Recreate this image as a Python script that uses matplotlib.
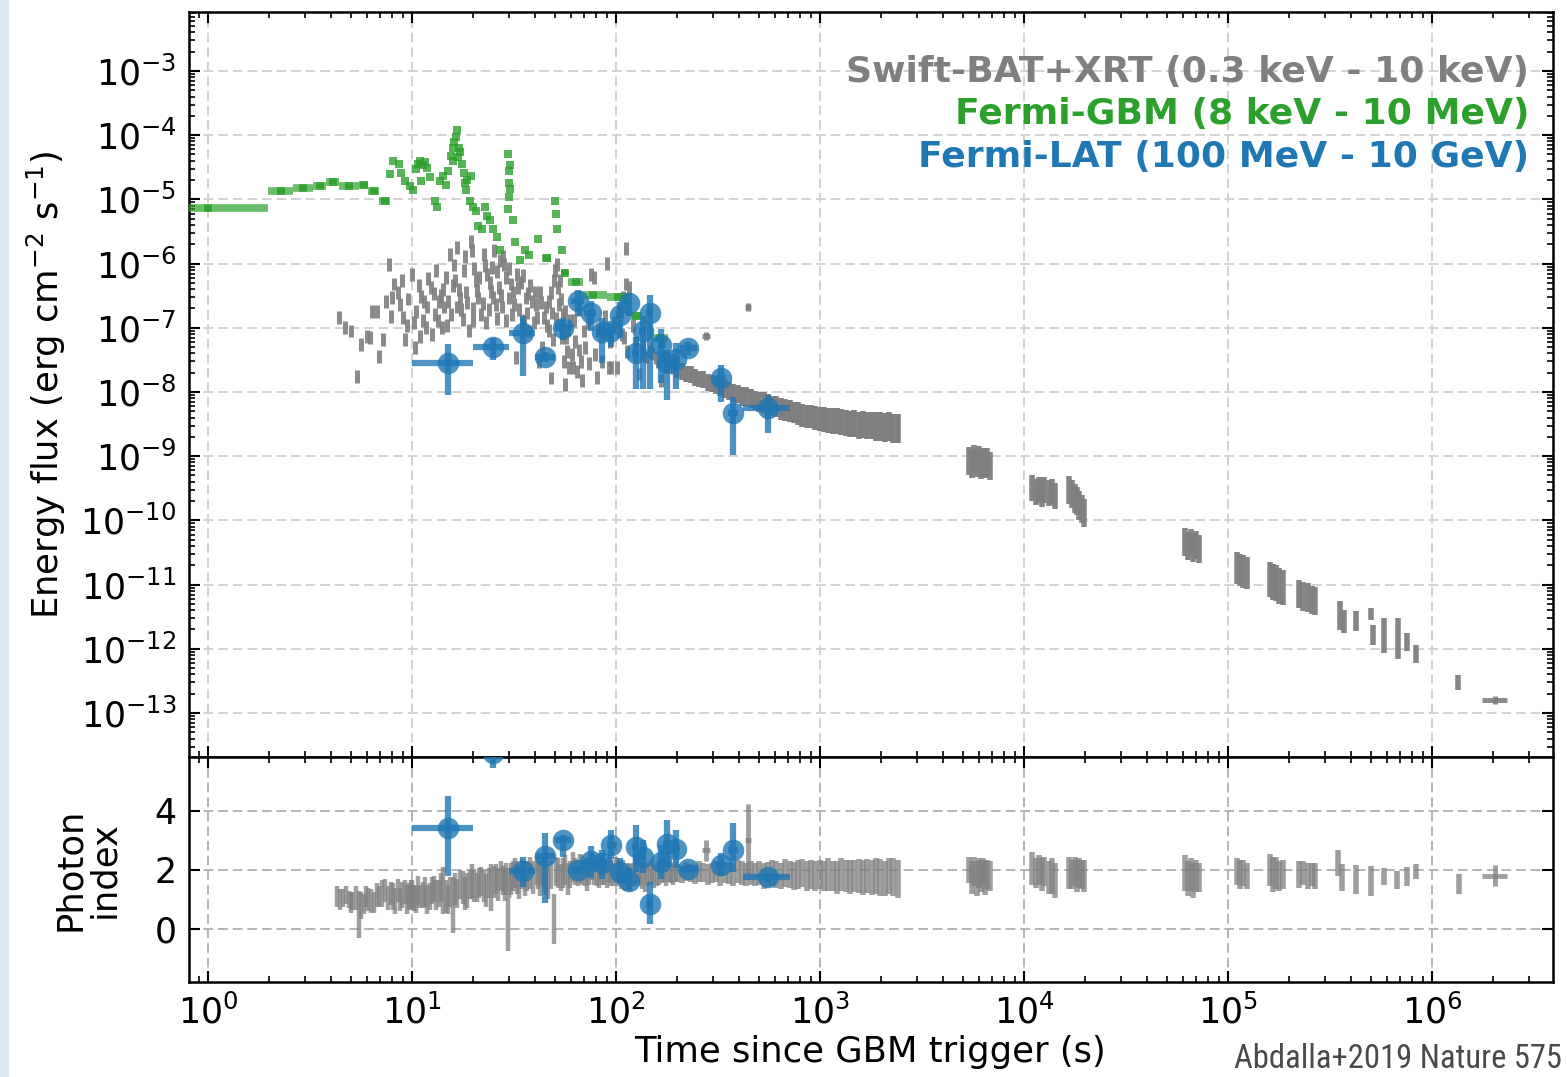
import numpy as np
import matplotlib
matplotlib.use('Agg')
import matplotlib.pyplot as plt
from matplotlib import font_manager as fm
from matplotlib.ticker import LogLocator, NullFormatter, FixedLocator
from matplotlib.patches import Rectangle

# ------------------------------------------------------------
# data
# ------------------------------------------------------------
# Swift-BAT/XRT early scatter (s, erg cm-2 s-1)
bat_t = [4.4, 4.7, 5.0, 5.4, 5.6, 6.0, 6.2, 6.4, 6.7, 6.9,
         7.2, 7.5, 7.7, 7.9, 8.2, 8.5, 8.7, 9.0, 9.2, 9.5,
         10.0, 10.3, 10.5, 10.9, 11.1, 11.3, 11.7, 11.9, 12.4, 12.6,
         12.9, 13.1, 13.6, 14.0, 14.4, 14.9, 15.3, 15.8, 16.3, 16.6,
         16.7, 17.2, 17.7, 18.0, 18.2, 18.7, 19.5, 19.6, 19.8, 20.5,
         21.1, 21.7, 22.6, 22.9, 23.4, 24.3, 24.8, 25.2, 25.7, 26.7,
         27.7, 28.0, 28.3, 28.8, 29.9, 30.5, 31.0, 31.6, 32.2, 32.8,
         34.1, 34.7, 36.1, 37.0, 37.4, 38.9, 40.4, 41.1, 41.9, 43.5,
         44.3, 45.2, 46.9, 47.8, 48.7, 49.6, 50.5, 51.5, 52.1, 52.5,
         53.5, 54.5, 55.5, 56.5, 57.6, 58.7, 60.9, 63.3, 64.5, 67.0,
         69.5, 70.8, 75.0, 77.8, 79.3, 85.5, 90.4, 92.1, 93.0, 95.0,
         101, 104, 107, 108, 110, 112, 112.5, 113, 116, 121,
         130, 146, 157, 166, 176, 190, 13.9, 20.0, 23.8, 26.2,
         33.5, 35.5, 39.5, 42.5, 47.0, 55.0, 58.0, 62.0, 66.0, 72.5,
         82.0, 88.0, 98.0, 125, 135, 140, 150, 160, 170, 185]
bat_f = [1.45e-7, 1.0e-7, 8.9e-8, 1.75e-8, 5.5e-8, 7.4e-8, 7.0e-8, 1.8e-7, 1.8e-7, 3.6e-8,
         6.6e-8, 2.6e-7, 9.8e-7, 1.5e-7, 4.8e-7, 3.5e-7, 2.3e-7, 1.45e-7, 6.6e-8, 1.1e-7,
         6.8e-7, 4.9e-8, 1.8e-7, 7.4e-8, 3.1e-7, 1.3e-7, 1.0e-7, 2.1e-7, 4.2e-7, 7.9e-8,
         1.6e-7, 7.7e-7, 2.6e-7, 1.0e-7, 2.1e-7, 1.1e-7, 1.4e-6, 4.5e-7, 5.4e-7, 1.8e-6,
         2.1e-7, 2.9e-7, 1.35e-7, 7.7e-7, 1.3e-6, 2.5e-7, 2.2e-6, 1.6e-6, 1.3e-7, 5.4e-7,
         2.9e-7, 1.6e-7, 1.4e-6, 9.2e-7, 6.8e-7, 3.7e-7, 8.7e-7, 1.6e-6, 2.3e-7, 4.2e-7,
         2.1e-7, 1.3e-6, 9.8e-7, 1.3e-7, 2.9e-7, 4.8e-7, 1.6e-7, 2.3e-7, 3.4e-8, 6.8e-7,
         5.1e-7, 1.3e-7, 2.9e-7, 3.4e-7, 8.9e-8, 2.6e-7, 2.3e-7, 1.45e-7, 3.0e-8, 4.9e-8,
         1.45e-7, 2.1e-7, 2.6e-7, 1.65e-8, 1.7e-7, 5.4e-7, 7.7e-7, 9.8e-7, 4.2e-7, 2.3e-7,
         1.1e-7, 7.0e-8, 3.0e-8, 1.3e-8, 4.3e-8, 2.4e-8, 3.8e-8, 6.2e-8, 2.1e-8, 3.0e-8,
         8.9e-8, 4.9e-8, 6.8e-7, 6.1e-7, 3.8e-8, 3.0e-8, 1.0e-6, 2.4e-8, 6.2e-8, 2.4e-8,
         2.4e-8, 1.8e-7, 7.9e-8, 3.0e-7, 7.0e-8, 1.7e-6, 4.8e-7, 4.3e-8, 4.2e-7, 1.1e-7,
         1.9e-8, 4.3e-8, 3.4e-8, 1.5e-8, 2.7e-8, 2.4e-8, 3.2e-7, 2.0e-7, 1.9e-7, 1.4e-7,
         1.9e-7, 1.1e-7, 1.2e-7, 3.6e-7, 9.0e-8, 1.6e-7, 9.5e-8, 1.3e-7, 1.9e-7, 1.2e-7,
         9.0e-8, 1.5e-7, 1.2e-7, 6.0e-8, 5.0e-8, 3.5e-8, 4.0e-8, 3.0e-8, 3.5e-8, 2.8e-8]
bat_more_t = [8.0, 8.9, 9.6, 10.2, 10.8, 11.5, 12.0, 12.8, 13.4, 14.2,
              14.7, 15.1, 15.6, 16.0, 17.0, 17.4, 18.4, 19.0, 20.2, 20.9,
              21.4, 22.2, 23.0, 24.0, 25.0, 26.0, 27.0, 27.3, 29.0, 30.0,
              31.3, 33.0, 35.0, 36.5, 38.0, 40.0, 43.0, 45.8, 48.2, 49.0,
              51.0, 53.0, 54.0, 56.0, 57.0, 59.5, 61.5, 65.5, 68.0, 74.0,
              80.5]
bat_more_f = [3.0e-7, 5.5e-7, 2.8e-7, 1.2e-7, 4.5e-7, 2.6e-7, 5.8e-7, 3.4e-7, 1.3e-7, 4.0e-7,
              6.0e-7, 2.6e-7, 1.6e-7, 9.5e-7, 4.0e-7, 1.9e-7, 3.6e-7, 9.0e-8, 8.5e-7, 3.8e-7,
              6.0e-7, 2.4e-7, 1.2e-7, 5.0e-7, 3.0e-7, 7.5e-7, 1.1e-6, 3.2e-7, 6.0e-7, 8.5e-7,
              3.6e-7, 4.2e-7, 6.5e-7, 1.7e-7, 4.5e-7, 3.6e-7, 2.5e-7, 1.1e-7, 3.5e-7, 6.5e-8,
              1.4e-7, 5.5e-7, 2.8e-7, 1.8e-7, 7.0e-8, 1.3e-7, 2.4e-8, 4.5e-8, 1.5e-8, 2.8e-8,
              1.7e-8]
bat_dex = 0.1

# XRT steady decay 200 - 2400 s
band_t = [200, 210, 220, 232, 243, 255, 268, 281, 295, 310,
          325, 341, 358, 376, 395, 415, 436, 457, 480, 504,
          529, 556, 583, 612, 643, 675, 709, 744, 781, 820,
          861, 904, 950, 997, 1047, 1099, 1154, 1212, 1272, 1336,
          1403, 1473, 1547, 1624, 1705, 1790, 1880, 1974, 2073, 2176,
          2285, 2400]
band_f = [22e-9, 21e-9, 19e-9, 18.5e-9, 17e-9, 16e-9, 15.5e-9, 14e-9, 13.5e-9, 13e-9,
          12e-9, 11e-9, 10.5e-9, 9.6e-9, 9.3e-9, 8.6e-9, 8.4e-9, 7.9e-9, 7.3e-9, 7.0e-9,
          6.8e-9, 6.4e-9, 6.0e-9, 5.9e-9, 5.5e-9, 5.2e-9, 5.0e-9, 4.8e-9, 4.6e-9, 4.3e-9,
          4.2e-9, 4.1e-9, 3.9e-9, 3.8e-9, 3.7e-9, 3.6e-9, 3.5e-9, 3.5e-9, 3.4e-9, 3.3e-9,
          3.2e-9, 3.2e-9, 3.0e-9, 3.1e-9, 3.0e-9, 3.0e-9, 2.9e-9, 2.9e-9, 2.8e-9, 2.9e-9,
          2.7e-9, 2.7e-9]
band_dex = [0.13, 0.13, 0.13, 0.13, 0.13, 0.13, 0.13, 0.13, 0.13, 0.14,
            0.14, 0.14, 0.14, 0.14, 0.14, 0.15, 0.15, 0.15, 0.15, 0.15,
            0.16, 0.16, 0.16, 0.16, 0.17, 0.17, 0.17, 0.17, 0.18, 0.18,
            0.18, 0.18, 0.19, 0.19, 0.19, 0.19, 0.2, 0.2, 0.2, 0.2,
            0.2, 0.21, 0.21, 0.21, 0.21, 0.21, 0.22, 0.22, 0.22, 0.22,
            0.22, 0.22]
band_idx = [1.9, 1.85, 1.95, 1.9, 1.85, 1.95, 1.9, 1.85, 1.9, 1.95,
            1.85, 1.9, 1.9, 1.85, 1.95, 1.9, 1.85, 1.9, 1.85, 1.9,
            1.8, 1.85, 1.9, 1.85, 1.8, 1.9, 1.85, 1.8, 1.85, 1.9,
            1.8, 1.85, 1.8, 1.85, 1.8, 1.85, 1.8, 1.75, 1.85, 1.8,
            1.75, 1.8, 1.8, 1.75, 1.8, 1.75, 1.8, 1.75, 1.7, 1.8,
            1.75, 1.7]
band_idx_err = [0.3, 0.3, 0.32, 0.3, 0.32, 0.35, 0.32, 0.35, 0.35, 0.35,
                0.38, 0.35, 0.38, 0.4, 0.38, 0.4, 0.4, 0.42, 0.4, 0.42,
                0.45, 0.42, 0.45, 0.45, 0.45, 0.48, 0.45, 0.48, 0.5, 0.48,
                0.5, 0.5, 0.52, 0.5, 0.52, 0.55, 0.52, 0.55, 0.55, 0.55,
                0.58, 0.55, 0.58, 0.6, 0.58, 0.6, 0.6, 0.62, 0.6, 0.62,
                0.65, 0.65]

# XRT isolated points with time bins
xplus_t = [277, 444, 2.03e6]
xplus_tlo = [265, 430, 1.76e6]
xplus_thi = [290, 460, 2.34e6]
xplus_f = [7.4e-8, 2.1e-7, 1.6e-13]
xplus_dex = [0.06, 0.06, 0.06]
xplus_idx = [2.66, 3.03, 1.8]
xplus_idx_err = [0.37, 1.2, 0.36]

# XRT late-time orbits (one visit per line)
late_t = [5400, 5550, 5700, 5850, 6000, 6150, 6300, 6450, 6600, 6800,
          11000, 11400, 11800, 12200, 12600, 13200, 13700, 14200,
          16700, 17200, 17700, 18200, 18700, 19200, 19700,
          61500, 63500, 65500, 67500, 69500, 72000,
          111000, 115000, 119000, 124000,
          160000, 166000, 172000, 178000, 185000,
          222000, 234000, 246000, 258000, 268000,
          352000, 372000, 422000, 503000, 511000, 582000, 679000, 757000, 830000,
          1.34e6]
late_f = [8.5e-10, 7.5e-10, 9.0e-10, 7.8e-10, 8.6e-10, 7.2e-10, 8.2e-10, 7.6e-10, 8.0e-10, 7.0e-10,
          3.2e-10, 2.8e-10, 3.0e-10, 2.6e-10, 3.0e-10, 2.7e-10, 2.8e-10, 2.4e-10,
          3.0e-10, 2.6e-10, 2.2e-10, 2.0e-10, 1.7e-10, 1.5e-10, 1.3e-10,
          4.6e-11, 4.0e-11, 4.4e-11, 3.7e-11, 4.1e-11, 3.6e-11,
          1.8e-11, 1.7e-11, 1.6e-11, 1.5e-11,
          1.2e-11, 1.1e-11, 1.05e-11, 9.5e-12, 9.0e-12,
          7.2e-12, 6.5e-12, 6.3e-12, 5.8e-12, 5.5e-12,
          3.3e-12, 2.7e-12, 2.7e-12, 3.5e-12, 1.66e-12, 1.6e-12, 1.44e-12, 1.27e-12, 8.3e-13,
          3.0e-13]
late_dex = [0.22, 0.22, 0.22, 0.22, 0.22, 0.22, 0.22, 0.22, 0.22, 0.22,
            0.2, 0.2, 0.2, 0.2, 0.2, 0.2, 0.2, 0.2,
            0.22, 0.22, 0.22, 0.22, 0.22, 0.22, 0.22,
            0.22, 0.22, 0.22, 0.22, 0.22, 0.22,
            0.25, 0.25, 0.25, 0.25,
            0.28, 0.28, 0.28, 0.28, 0.28,
            0.22, 0.22, 0.22, 0.22, 0.22,
            0.22, 0.18, 0.155, 0.09, 0.155, 0.27, 0.32, 0.14, 0.14,
            0.12]

# photon index, BAT/XRT early
idx_t = [4.3, 4.6, 4.9, 5.1, 5.5, 5.8, 6.1, 6.5, 6.9, 7.4,
         7.9, 8.3, 8.7, 9.2, 9.7, 10.0, 10.5, 11.0, 11.6, 12.2,
         12.8, 13.5, 14.2, 15.0, 15.8, 16.7, 17.7, 18.7, 19.7, 20.8,
         21.9, 23.1, 24.4, 25.8, 27.2, 28.5, 29.5, 30.5, 31.9, 33.5,
         35.7, 37.8, 40.9, 42.5, 44.3, 46.5, 49.4, 52.0, 55.1, 58.0,
         61.4, 65.0, 68.5, 72.0, 76.2, 80.5, 85.0, 90.0, 94.7, 100,
         105.6, 111, 117.7, 124, 131, 138, 146, 154, 163, 172,
         181, 191]
idx_v = [1.1, 1.05, 1.0, 0.95, 0.5, 0.85, 1.0, 0.9, 1.1, 1.3,
         1.2, 0.95, 1.0, 1.25, 1.1, 1.15, 1.0, 1.1, 1.25, 1.1,
         1.35, 1.2, 1.3, 1.0, 0.8, 1.2, 1.4, 1.3, 1.6, 1.4,
         1.6, 1.3, 1.4, 1.7, 1.8, 1.5, 0.15, 1.7, 1.9, 1.6,
         1.7, 1.9, 2.0, 1.7, 1.8, 1.6, 0.35, 1.9, 1.9, 1.7,
         2.1, 1.9, 2.0, 1.8, 2.1, 1.9, 2.0, 1.85, 1.9, 2.0,
         1.8, 1.7, 1.75, 1.9, 1.85, 1.7, 1.9, 1.8, 1.9, 1.95,
         1.95, 1.85]
idx_e = [0.35, 0.3, 0.3, 0.3, 0.8, 0.35, 0.4, 0.35, 0.35, 0.4,
         0.4, 0.45, 0.4, 0.4, 0.45, 0.5, 0.45, 0.4, 0.5, 0.45,
         0.45, 0.45, 0.8, 0.5, 0.95, 0.5, 0.55, 0.6, 0.6, 0.5,
         0.5, 0.55, 0.8, 0.5, 0.5, 0.55, 0.9, 0.55, 0.5, 0.6,
         0.6, 0.55, 0.5, 0.6, 0.55, 0.6, 0.85, 0.5, 0.5, 0.55,
         0.5, 0.45, 0.5, 0.5, 0.45, 0.45, 0.5, 0.45, 0.45, 0.45,
         0.45, 0.4, 0.45, 0.45, 0.4, 0.45, 0.4, 0.4, 0.4, 0.35,
         0.35, 0.35]
idx_more_t = [4.45, 4.75, 5.0, 5.3, 5.65, 5.95, 6.3, 6.7, 7.15, 7.65,
              8.1, 8.5, 8.95, 9.45, 9.85, 10.25, 10.75, 11.3, 11.9, 12.5,
              13.15, 13.85, 14.6, 15.4, 16.25, 17.2, 18.2, 19.2, 20.25, 21.35,
              22.5, 23.75, 25.1, 26.5, 27.85, 29.0, 30.0, 31.2, 32.7, 34.6,
              36.7, 39.3, 41.7, 43.4, 45.4, 48.0, 50.7, 53.5, 56.5, 59.7,
              63.2, 66.7, 70.2, 74.1, 78.3, 82.7, 87.5, 92.3, 97.3, 102.8,
              108.3, 114.3, 120.8, 127.5, 134.5, 142, 150, 158.5, 167.5, 176.5,
              186, 196]
idx_more_v = [1.0, 1.15, 0.9, 1.05, 0.8, 1.1, 0.95, 1.15, 1.2, 1.05,
              1.1, 1.3, 1.15, 1.0, 1.2, 1.05, 1.3, 1.15, 1.0, 1.3,
              1.15, 1.4, 1.1, 1.25, 1.35, 1.5, 1.2, 1.5, 1.45, 1.55,
              1.45, 1.55, 1.6, 1.5, 1.65, 1.7, 1.55, 1.8, 1.75, 1.85,
              1.8, 1.75, 1.85, 1.95, 1.7, 1.85, 1.95, 1.75, 2.0, 1.85,
              1.95, 2.05, 1.9, 1.95, 2.0, 1.85, 1.95, 2.0, 1.85, 1.9,
              1.95, 1.8, 1.85, 1.95, 1.8, 1.85, 1.95, 1.85, 1.9, 1.85,
              1.9, 1.95]
idx_more_e = [0.35, 0.3, 0.35, 0.4, 0.45, 0.35, 0.4, 0.4, 0.45, 0.4,
              0.45, 0.4, 0.45, 0.5, 0.45, 0.45, 0.5, 0.45, 0.5, 0.45,
              0.5, 0.5, 0.55, 0.5, 0.55, 0.5, 0.55, 0.5, 0.55, 0.5,
              0.55, 0.5, 0.55, 0.55, 0.5, 0.55, 0.5, 0.5, 0.55, 0.5,
              0.5, 0.55, 0.5, 0.5, 0.55, 0.5, 0.5, 0.45, 0.5, 0.45,
              0.45, 0.5, 0.45, 0.45, 0.5, 0.45, 0.45, 0.45, 0.4, 0.45,
              0.4, 0.45, 0.4, 0.4, 0.45, 0.4, 0.4, 0.4, 0.35, 0.4,
              0.35, 0.35]

# photon index, XRT late-time orbits (one visit per line)
late_idx_t = [5400, 5550, 5700, 5850, 6000, 6150, 6300, 6450, 6600, 6800,
              11000, 11400, 11800, 12200, 12600, 13200, 13700, 14200,
              16700, 17200, 17700, 18200, 18700, 19200, 19700,
              61500, 63500, 65500, 67500, 69500, 72000,
              111000, 115000, 119000, 124000,
              160000, 166000, 172000, 178000, 185000,
              222000, 234000, 246000, 258000, 268000,
              347000, 364000, 426000, 502000, 579000, 674000, 752000, 839000,
              1.36e6]
late_idx = [2.0, 1.75, 1.95, 1.7, 1.9, 1.8, 1.95, 1.75, 1.85, 1.8,
            2.05, 1.9, 2.0, 1.85, 1.95, 1.75, 1.8, 1.65,
            1.9, 1.85, 1.95, 1.8, 1.9, 1.85, 1.8,
            1.9, 1.7, 1.85, 1.65, 1.8, 1.75,
            1.95, 1.85, 1.9, 1.8,
            2.0, 1.85, 1.9, 1.8, 1.85,
            1.85, 1.9, 1.8, 1.85, 1.8,
            2.25, 1.74, 1.67, 1.63, 1.78, 1.67, 1.78, 1.95,
            1.52]
late_idx_err = [0.45, 0.55, 0.5, 0.6, 0.5, 0.55, 0.45, 0.6, 0.5, 0.5,
                0.55, 0.5, 0.5, 0.55, 0.5, 0.55, 0.6, 0.6,
                0.55, 0.5, 0.5, 0.55, 0.5, 0.5, 0.55,
                0.6, 0.6, 0.55, 0.6, 0.55, 0.5,
                0.45, 0.5, 0.45, 0.45,
                0.55, 0.6, 0.55, 0.5, 0.5,
                0.45, 0.4, 0.45, 0.4, 0.45,
                0.44, 0.47, 0.49, 0.51, 0.29, 0.31, 0.31, 0.26,
                0.34]

# Fermi-GBM, binned early light curve
gbm_bin_lo = [0.03, 1.97, 2.61, 3.27, 3.8, 4.4, 5.5, 6.1, 6.9, 43.5, 54.0, 58.5, 66.0, 90.0, 118, 150]
gbm_bin_hi = [1.97, 2.61, 3.27, 3.8, 4.4, 5.5, 6.1, 6.9, 7.8, 48.0, 58.5, 69.0, 90.0, 115, 134, 180]
gbm_bin_f = [7.3e-6, 1.33e-5, 1.5e-5, 1.6e-5, 1.84e-5, 1.6e-5, 1.7e-5, 1.37e-5, 9.5e-6, 1.2e-6,
             7.1e-7, 5.1e-7, 3.2e-7, 3.0e-7, 1.5e-7, 6.9e-8]
# Fermi-GBM, fine time resolution points
gbm_t = [7.8, 8.1, 8.6, 8.8, 9.2, 9.8, 10.1, 10.5, 10.9, 11.1,
         11.6, 11.9, 12.3, 13.0, 13.2, 13.7, 14.2, 14.6, 15.1, 15.6,
         15.9, 16.1, 16.6, 17.0, 17.2, 17.9, 18.2, 18.4, 19.3, 19.4,
         20.0, 20.7, 21.0, 22.0, 22.8, 23.2, 24.1, 25.0, 26.0, 27.0,
         29.4, 29.7, 29.8, 29.9, 30.0, 30.1, 30.3, 31.2, 32.0, 33.8,
         35.8, 37.5, 41.6, 50.2, 50.8, 51.4, 54.2, 15.8, 16.4, 16.9,
         17.5, 18.6, 11.3, 10.7]
gbm_f = [2.5e-5, 3.9e-5, 3.5e-5, 2.6e-5, 1.9e-5, 1.6e-5, 1.4e-5, 3.0e-5, 4.0e-5, 1.9e-5,
         3.8e-5, 3.1e-5, 2.2e-5, 9.5e-6, 7.7e-6, 1.9e-5, 2.3e-5, 1.7e-5, 2.8e-5, 4.8e-5,
         6.4e-5, 7.7e-5, 1.2e-4, 6.4e-5, 5.4e-5, 2.6e-5, 1.8e-5, 1.4e-5, 9.5e-6, 2.3e-5,
         7.5e-6, 6.6e-6, 3.9e-6, 3.5e-6, 7.5e-6, 5.6e-6, 4.7e-6, 3.5e-6, 2.6e-6, 1.6e-6,
         7.1e-6, 5.1e-5, 1.8e-5, 2.8e-5, 1.1e-5, 3.4e-5, 1.45e-5, 4.7e-6, 2.2e-6, 1.15e-6,
         1.6e-6, 1.35e-6, 2.4e-6, 9.5e-6, 5.9e-6, 3.5e-6, 1.6e-6, 4.0e-5, 9.5e-5, 4.5e-5,
         3.5e-5, 2.0e-5, 3.4e-5, 3.5e-5]

# Fermi-LAT
lat_t = [15, 25, 35, 45, 55, 65, 75, 85, 95, 105, 116, 126, 136, 147, 167, 177, 196, 226, 328, 376, 553]
lat_tlo = [10, 20, 30, 40, 50, 60, 70, 80, 90, 100, 110, 120, 130, 140, 160, 170, 190, 205, 310, 355, 420]
lat_thi = [20, 30, 40, 50, 60, 70, 80, 90, 100, 110, 120, 130, 140, 150, 175, 185, 205, 250, 345, 395, 710]
lat_f = [2.8e-8, 5.0e-8, 8.3e-8, 3.5e-8, 1.0e-7, 2.6e-7, 1.7e-7, 8.5e-8, 9.0e-8, 1.6e-7, 2.4e-7,
         4.0e-8, 9.0e-8, 1.7e-7, 5.4e-8, 2.8e-8, 3.3e-8, 4.9e-8, 1.66e-8, 4.7e-9, 5.6e-9]
lat_flo = [8.9e-9, 3.2e-8, 1.8e-8, 2.9e-8, 6.5e-8, 1.5e-7, 9.0e-8, 2.8e-8, 5.0e-8, 7.0e-8, 1.5e-7,
           1.1e-8, 1.1e-8, 1.1e-8, 1.4e-8, 7.5e-9, 1.1e-8, 3.8e-8, 7.0e-9, 1.05e-9, 2.3e-9]
lat_fhi = [5.5e-8, 6.9e-8, 1.5e-7, 4.2e-8, 1.3e-7, 3.9e-7, 2.6e-7, 1.4e-7, 1.2e-7, 2.5e-7, 3.5e-7,
           7.2e-8, 1.5e-7, 3.2e-7, 9.5e-8, 4.5e-8, 5.7e-8, 6.0e-8, 2.6e-8, 8.3e-9, 9.0e-9]
lat_idx = [3.41, 5.95, 1.98, 2.49, 3.0, 2.0, 2.32, 2.23, 2.86, 1.92, 1.63,
           2.78, 2.43, 0.83, 2.26, 2.89, 2.72, 2.03, 2.18, 2.69, 1.75]
lat_idx_lo = [1.6, 0.5, 0.55, 1.6, 0.55, 0.15, 0.6, 0.55, 0.5, 0.4, 0.3,
              0.85, 0.55, 0.65, 0.55, 0.8, 0.65, 0.15, 0.4, 0.75, 0.15]
lat_idx_hi = [1.1, 0.5, 0.45, 0.75, 0.2, 0.15, 0.5, 0.45, 0.5, 0.5, 0.45,
              0.75, 0.6, 0.75, 0.6, 0.8, 0.65, 0.15, 0.4, 0.9, 0.15]

labels = ['Swift-BAT+XRT (0.3 keV - 10 keV)',
          'Fermi-GBM (8 keV - 10 MeV)',
          'Fermi-LAT (100 MeV - 10 GeV)']

GRAY = '#7f7f7f'
GREEN = '#2ca02c'
BLUE = '#1f77b4'


def dex_err(f, d):
    f = np.asarray(f, float)
    d = np.broadcast_to(np.asarray(d, float), f.shape)
    return [f - f / 10**d, f * 10**d - f]


def bin_err(t, lo, hi):
    t = np.asarray(t, float)
    return [t - np.asarray(lo), np.asarray(hi) - t]


def narrow_font():
    # condensed face for the citation, if one is installed
    for fam in ['Liberation Sans Narrow', 'Roboto Condensed', 'Open Sans Condensed']:
        try:
            fm.findfont(fm.FontProperties(family=fam), fallback_to_default=False)
            return dict(family=fam), 23.5
        except ValueError:
            pass
    p = fm.findfont(fm.FontProperties(family='DejaVu Sans', stretch='condensed'))
    if 'Condensed' in p:
        return dict(family='DejaVu Sans', stretch='condensed'), 21
    return dict(family='DejaVu Sans'), 18.5


# ------------------------------------------------------------
# figure
# ------------------------------------------------------------
fig = plt.figure(figsize=(15.67, 10.77), dpi=100)
fig.patches.append(Rectangle((0, 0), 8 / 1567, 1, transform=fig.transFigure,
                             color='#dde8f4', zorder=0))
ax1 = fig.add_axes([0.1206, 0.2971, 0.8705, 0.6918])
ax2 = fig.add_axes([0.1206, 0.0882, 0.8705, 0.2089], sharex=ax1)

# --- top: energy flux
ekw = dict(fmt='none', ecolor=GRAY, capsize=0, zorder=2)
ax1.errorbar(bat_t, bat_f, yerr=dex_err(bat_f, bat_dex), elinewidth=3.6, alpha=0.9, **ekw)
ax1.errorbar(bat_more_t, bat_more_f, yerr=dex_err(bat_more_f, bat_dex), elinewidth=3.6, alpha=0.9, **ekw)
ax1.errorbar(band_t, band_f, yerr=dex_err(band_f, band_dex), elinewidth=4.0, alpha=1.0, **ekw)
ax1.errorbar(late_t, late_f, yerr=dex_err(late_f, late_dex), elinewidth=4.0, alpha=0.95, **ekw)
ax1.errorbar(xplus_t, xplus_f, xerr=bin_err(xplus_t, xplus_tlo, xplus_thi),
             yerr=dex_err(xplus_f, xplus_dex), elinewidth=3.6, alpha=0.9, **ekw)

gbm_mid = [np.sqrt(a * b) if a > 0.5 else 1.0 for a, b in zip(gbm_bin_lo, gbm_bin_hi)]
ax1.errorbar(gbm_mid, gbm_bin_f, xerr=bin_err(gbm_mid, gbm_bin_lo, gbm_bin_hi),
             yerr=dex_err(gbm_bin_f, 0.03), fmt='s', ms=5.5, mew=0, color=GREEN,
             elinewidth=5.5, capsize=0, alpha=0.7, zorder=3)
ax1.plot(gbm_t, gbm_f, 's', ms=6, mew=0, color=GREEN, alpha=0.8, zorder=3)

ax1.errorbar(lat_t, lat_f, xerr=bin_err(lat_t, lat_tlo, lat_thi),
             yerr=bin_err(lat_f, lat_flo, lat_fhi), fmt='o', ms=15.5, mew=0,
             color=BLUE, elinewidth=4.5, capsize=0, alpha=0.8, zorder=4)

# --- bottom: photon index
ikw = dict(fmt='none', ecolor=GRAY, capsize=0, alpha=0.75, zorder=2)
ax2.errorbar(idx_t, idx_v, yerr=idx_e, elinewidth=3.2, **ikw)
ax2.errorbar(idx_more_t, idx_more_v, yerr=idx_more_e, elinewidth=3.2, **ikw)
ax2.errorbar(band_t, band_idx, yerr=band_idx_err, elinewidth=4.0, **ikw)
ax2.errorbar(late_idx_t, late_idx, yerr=late_idx_err, elinewidth=4.0, **ikw)
ax2.errorbar(xplus_t, xplus_idx, xerr=bin_err(xplus_t, xplus_tlo, xplus_thi),
             yerr=xplus_idx_err, elinewidth=3.5, **ikw)
ax2.errorbar(lat_t, lat_idx, xerr=bin_err(lat_t, lat_tlo, lat_thi),
             yerr=[lat_idx_lo, lat_idx_hi], fmt='o', ms=15.5, mew=0,
             color=BLUE, elinewidth=4.5, capsize=0, alpha=0.8, zorder=4)

# --- axes styling
ax1.set_xscale('log')
ax1.set_yscale('log')
ax1.set_xlim(0.807, 3.92e6)
ax1.set_ylim(2.06e-14, 8.3e-3)
ax2.set_ylim(-1.8, 5.83)

for ax in (ax1, ax2):
    ax.xaxis.set_major_locator(FixedLocator([1e0, 1e1, 1e2, 1e3, 1e4, 1e5, 1e6]))
    ax.xaxis.set_minor_locator(LogLocator(base=10, subs=np.arange(2, 10), numticks=30))
    ax.xaxis.set_minor_formatter(NullFormatter())
    ax.tick_params(which='both', direction='in', top=True, right=True, labelsize=25)
    ax.tick_params(which='major', length=8, width=1.5)
    ax.tick_params(which='minor', length=4.5, width=1.2)
    for s in ax.spines.values():
        s.set_linewidth(1.8)

ax1.yaxis.set_major_locator(FixedLocator([10.0**k for k in range(-13, -2)]))
ax1.yaxis.set_minor_locator(LogLocator(base=10, subs=np.arange(2, 10), numticks=30))
ax1.yaxis.set_minor_formatter(NullFormatter())
ax1.tick_params(axis='x', labelbottom=False)
ax1.tick_params(axis='y', pad=9)
ax2.yaxis.set_major_locator(FixedLocator([0, 2, 4]))
ax2.tick_params(axis='y', pad=9)
ax2.tick_params(axis='x', pad=9)

ax1.grid(True, which='major', ls=(0, (5, 2.5)), color='#d2d2d2', lw=1.4)
ax2.grid(True, which='major', ls=(0, (5, 2.5)), color='#b4b4b4', lw=1.4)
ax1.set_axisbelow(True)
ax2.set_axisbelow(True)

ax1.set_ylabel('Energy flux (erg cm$^{-2}$ s$^{-1}$)', fontsize=25.5)
ax1.yaxis.set_label_coords(-0.089, 0.5)
ax2.set_ylabel('Photon\nindex', fontsize=25.5, linespacing=1.0)
ax2.yaxis.set_label_coords(-0.05, 0.5)
ax2.set_xlabel('Time since GBM trigger (s)', fontsize=25.5)
ax2.xaxis.set_label_coords(0.499, -0.235)

for txt, col, yy in zip(labels, [GRAY, GREEN, BLUE], [0.906, 0.8497, 0.792]):
    ax1.text(0.9824, yy, txt, transform=ax1.transAxes, ha='right', va='baseline',
             fontsize=26, fontweight='bold', color=col)

nf, nsize = narrow_font()
fig.text(0.9968, 0.0084, 'Abdalla+2019 Nature 575', ha='right', va='baseline',
         fontsize=nsize, color='#4a4a4a', **nf)

fig.savefig('out.png', dpi=100)
